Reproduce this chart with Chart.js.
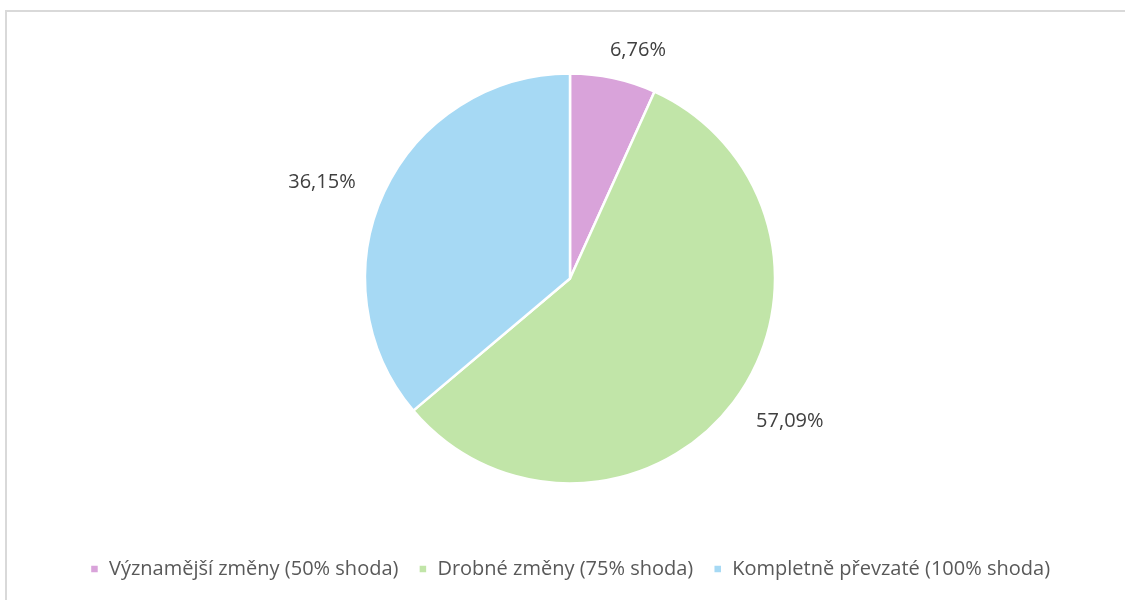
<!DOCTYPE html>
<html>
<head>
<meta charset="utf-8">
<script src="https://cdn.jsdelivr.net/npm/chart.js@4"></script>
<style>
  html, body { margin: 0; padding: 0; background: #fff; overflow: hidden; }
  #frame { position: absolute; left: 5px; top: 10px; width: 1200px; height: 700px; border: 2px solid #d9d9d9; }
  #wrap { position: absolute; left: 0; top: 0; width: 1125px; height: 600px; }
</style>
</head>
<body>
<div id="frame"></div>
<div id="wrap"><canvas id="pie" width="1125" height="600"></canvas></div>
<script>
// data
const categories = ["Významější změny (50% shoda)", "Drobné změny (75% shoda)", "Kompletně převzaté (100% shoda)"];
const shares = [6.76, 57.09, 36.15];
const sliceColors = ["#d9a3da", "#c1e5a8", "#a6d9f4"];

const FONT = "Open Sans";
// small hand nudges so labels sit where Excel's best-fit put them
const labelNudge = [[17, 8], [13, -14], [-11, 14]];

// labels outside each slice
const outsideLabels = {
  id: "outsideLabels",
  afterDatasetsDraw(chart) {
    const ctx = chart.ctx;
    const meta = chart.getDatasetMeta(0);
    ctx.save();
    ctx.font = "20px " + FONT;
    ctx.fillStyle = "#404040";
    ctx.textAlign = "center";
    ctx.textBaseline = "middle";
    meta.data.forEach((arc, i) => {
      const txt = shares[i].toFixed(2).replace(".", ",") + "%";
      const mid = (arc.startAngle + arc.endAngle) / 2;
      const w = ctx.measureText(txt).width, h = 18;
      const c = Math.cos(mid), s = Math.sin(mid);
      const ext = Math.abs(c) * w / 2 + Math.abs(s) * h / 2;
      const r = arc.outerRadius + 22 + ext;
      ctx.fillText(txt, arc.x + c * r + labelNudge[i][0], arc.y + s * r + labelNudge[i][1]);
    });
    ctx.restore();
  }
};

new Chart(document.getElementById("pie"), {
  type: "pie",
  data: {
    labels: categories,
    datasets: [{
      data: shares,
      backgroundColor: sliceColors,
      borderColor: "#ffffff",
      borderWidth: 2.5,
      radius: 205
    }]
  },
  options: {
    responsive: false,
    animation: false,
    layout: { padding: { top: 18, bottom: 11, left: 15, right: 0 } },
    plugins: {
      tooltip: { enabled: false },
      legend: {
        position: "bottom",
        labels: {
          boxWidth: 9,
          boxHeight: 9,
          padding: 20,
          color: "#595959",
          font: { family: FONT, size: 20 }
        }
      }
    }
  },
  plugins: [outsideLabels]
});
</script>
</body>
</html>
